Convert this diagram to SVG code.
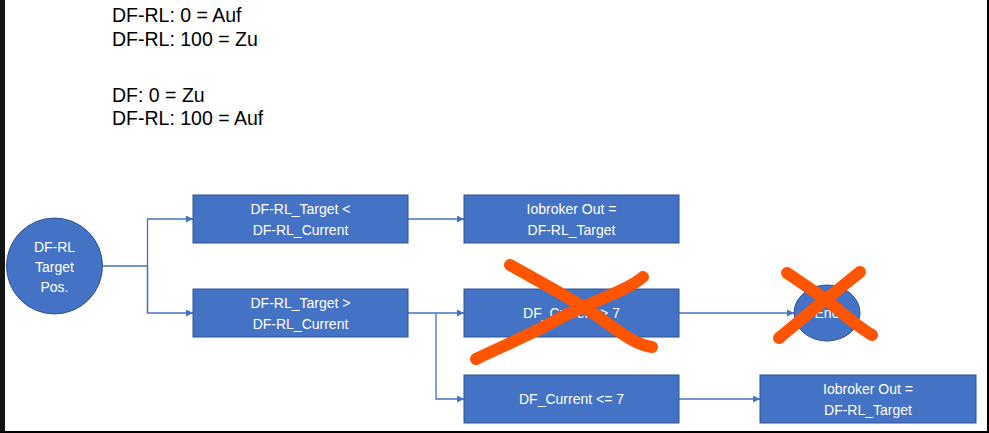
<svg xmlns="http://www.w3.org/2000/svg" width="989" height="433" viewBox="0 0 989 433">
<style>
.note{font-family:"Liberation Sans",Arial,sans-serif;font-size:19.5px;fill:#000}
.lbl{font-family:"Liberation Sans",Arial,sans-serif;font-size:14px;fill:#fff;text-anchor:middle}
.box{fill:#4472C4;stroke:#2F528F;stroke-width:1}
.con{fill:none;stroke:#4472C4;stroke-width:1.3}
.cross{fill:none;stroke:#FF5400;stroke-width:12;stroke-linecap:round;stroke-linejoin:round}
</style>
<defs>
<marker id="arr" viewBox="0 0 10 10" refX="10" refY="5" markerWidth="7" markerHeight="7" markerUnits="userSpaceOnUse" orient="auto">
<path d="M0,0 L10,5 L0,10 z" fill="#4472C4"/>
</marker>
</defs>
<rect x="0" y="0" width="989" height="433" fill="#fff"/>
<rect x="0" y="0" width="5" height="433" fill="#141414"/>
<rect x="987" y="0" width="2" height="433" fill="#000"/>
<rect x="0" y="431" width="989" height="2" fill="#000"/>

<g id="notes">
<text class="note" x="112" y="22">DF-RL: 0 = Auf</text>
<text class="note" x="112" y="46">DF-RL: 100 = Zu</text>
<text class="note" x="112" y="102">DF: 0 = Zu</text>
<text class="note" x="112" y="125">DF-RL: 100 = Auf</text>
</g>

<g id="connectors">
<path class="con" d="M103,266 H147.5"/>
<path class="con" d="M147.5,313 V219 H193" marker-end="url(#arr)"/>
<path class="con" d="M147.5,266 V313 H193" marker-end="url(#arr)"/>
<path class="con" d="M408,219 H464" marker-end="url(#arr)"/>
<path class="con" d="M408,313 H464" marker-end="url(#arr)"/>
<path class="con" d="M436,313 V399 H464" marker-end="url(#arr)"/>
<path class="con" d="M679,313 H794" marker-end="url(#arr)"/>
<path class="con" d="M679,399 H760" marker-end="url(#arr)"/>
</g>

<g id="start">
<circle class="box" cx="54.5" cy="266" r="48"/>
<text class="lbl" x="54.5" y="252">DF-RL</text>
<text class="lbl" x="54.5" y="272">Target</text>
<text class="lbl" x="54.5" y="292">Pos.</text>
</g>

<g id="cond-lt">
<rect class="box" x="193" y="195" width="215" height="48"/>
<text class="lbl" x="300.5" y="214">DF-RL_Target &lt;</text>
<text class="lbl" x="300.5" y="235">DF-RL_Current</text>
</g>

<g id="cond-gt">
<rect class="box" x="193" y="289" width="215" height="48"/>
<text class="lbl" x="300.5" y="308">DF-RL_Target &gt;</text>
<text class="lbl" x="300.5" y="329">DF-RL_Current</text>
</g>

<g id="out-1">
<rect class="box" x="464" y="195" width="215" height="48"/>
<text class="lbl" x="571.5" y="214">Iobroker Out =</text>
<text class="lbl" x="571.5" y="235">DF-RL_Target</text>
</g>

<g id="cur-gt7">
<rect class="box" x="464" y="289" width="215" height="48"/>
<text class="lbl" x="571.5" y="318">DF_Current &gt; 7</text>
</g>

<g id="cur-le7">
<rect class="box" x="464" y="375" width="215" height="48"/>
<text class="lbl" x="571.5" y="404">DF_Current &lt;= 7</text>
</g>

<g id="end">
<ellipse class="box" cx="827" cy="313" rx="33" ry="28"/>
<text class="lbl" x="827" y="318">End</text>
</g>

<g id="out-2">
<rect class="box" x="760" y="375" width="216" height="48"/>
<text class="lbl" x="868" y="394">Iobroker Out =</text>
<text class="lbl" x="868" y="415">DF-RL_Target</text>
</g>

<g id="crosses">
<path class="cross" d="M510,265 C540,282 575,300 600,318 C620,332 635,345 652,347"/>
<path class="cross" d="M476,359 C505,345 530,335 560,318 C590,302 625,292 643,277"/>
<path class="cross" d="M787,273 C805,285 820,295 835,307 C848,318 860,328 872,335"/>
<path class="cross" d="M779,338 C795,325 812,310 825,300 C838,290 850,280 860,272"/>
</g>
</svg>
